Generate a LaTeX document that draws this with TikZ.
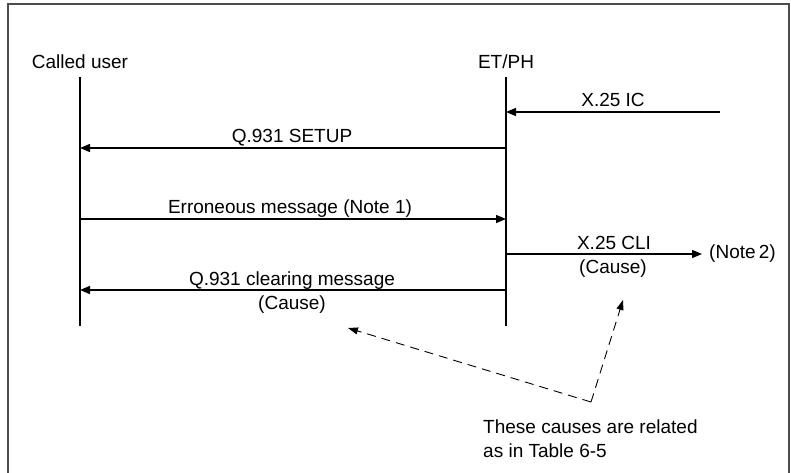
\documentclass[tikz,border=0pt]{standalone}
\usepackage{fontspec}
\setmainfont{Liberation Sans}
\usetikzlibrary{arrows.meta}
\begin{document}
\begin{tikzpicture}[x=1pt,y=-1pt,
  every node/.style={font=\fontsize{19}{24}\selectfont, inner sep=0pt},
  lbl/.style={anchor=base},
  life/.style={line width=1.4pt},
  msg/.style={line width=1.4pt, -{Triangle[length=10pt,width=8pt]}},
  dsh/.style={line width=0.9pt, dash pattern=on 9pt off 6pt, -{Triangle[length=10pt,width=7pt]}},
  frame/.style={draw=black!70, line width=1.2pt}]
\useasboundingbox (0,0) rectangle (791,472);
\draw[frame] (8,476) -- (8,4) -- (789,4) -- (789,476);
% lifelines
\node[lbl] (cu) at (80,68) {Called user};
\node[lbl] (et) at (506,68) {ET/PH};
\coordinate (cuT) at (80,77); \coordinate (cuB) at (80,326);
\coordinate (etT) at (506,77); \coordinate (etB) at (506,326);
\draw[life] (cuT) -- (cuB);
\draw[life] (etT) -- (etB);
% messages
\coordinate (icS) at (720,112); \coordinate (icE) at (506,112);
\draw[msg] (icS) -- (icE);
\node[lbl] (icL) at (613,106) {X.25 IC};
\coordinate (suS) at (506,148); \coordinate (suE) at (80,148);
\draw[msg] (suS) -- (suE);
\node[lbl] (suL) at (292,142) {Q.931 SETUP};
\coordinate (erS) at (80,219); \coordinate (erE) at (506,219);
\draw[msg] (erS) -- (erE);
\node[lbl] (erL) at (290,213) {Erroneous message (Note 1)};
\coordinate (clS) at (506,254);
\node[anchor=west] (n2) at (709,254) {(Note\,2)};
\draw[msg] (clS) -- ([xshift=-7pt]n2.west);
\node[lbl] (clL) at (614,249) {X.25 CLI};
\node[lbl] (clC) at (613,273) {(Cause)};
\coordinate (qcS) at (506,290); \coordinate (qcE) at (80,290);
\draw[msg] (qcS) -- (qcE);
\node[lbl] (qcL) at (292,285) {Q.931 clearing message};
\node[lbl] (qcC) at (292,309) {(Cause)};
% note
\node[anchor=base west] (note1) at (483,433) {These causes are related};
\node[anchor=base west] (note2) at (483,457) {as in Table 6-5};
\coordinate (j) at (591,402);
\coordinate (t1) at (348,328);
\coordinate (t2) at (623,300);
\draw[dsh] (j) -- (t1);
\draw[dsh] (j) -- (t2);
\end{tikzpicture}
\end{document}
